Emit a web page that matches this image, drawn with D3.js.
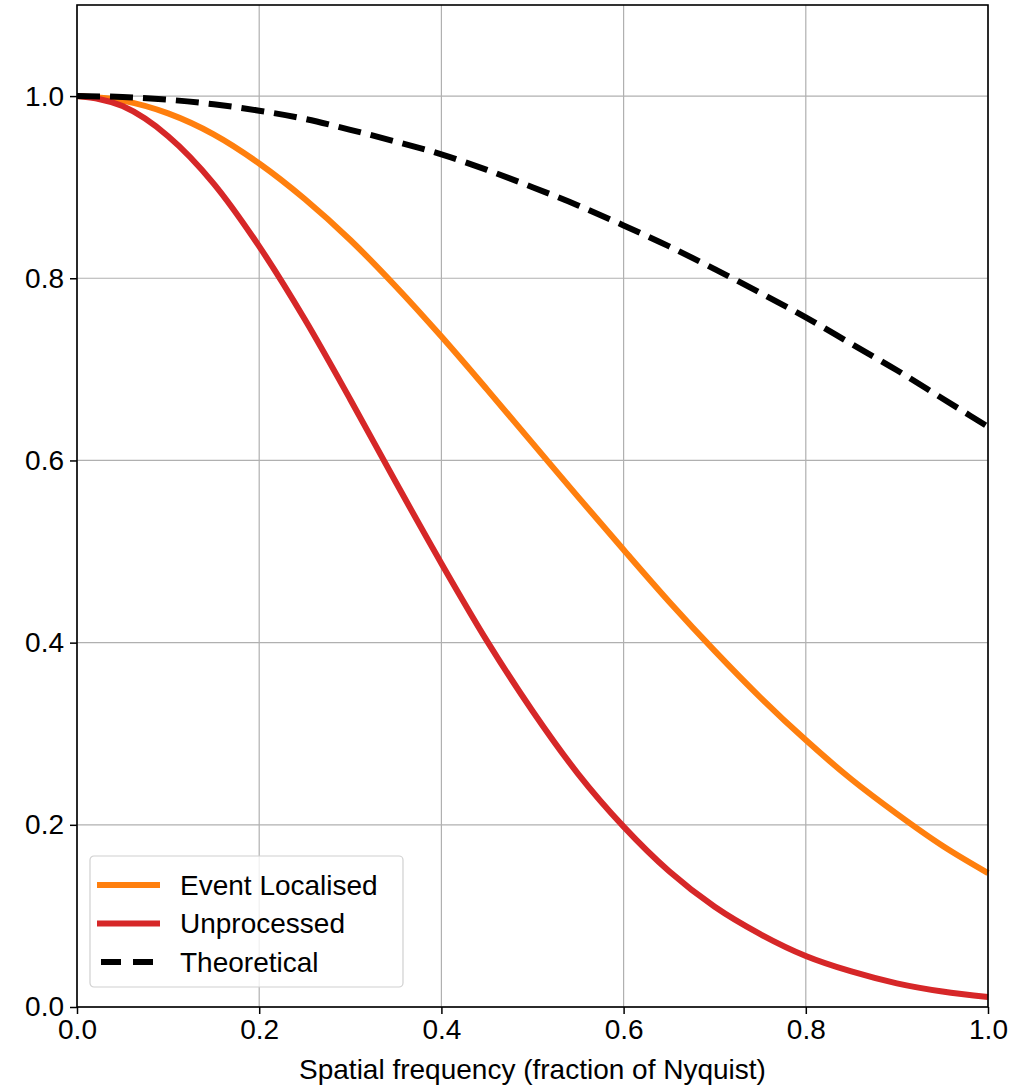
<!DOCTYPE html>
<html>
<head>
<meta charset="utf-8">
<script src="https://cdn.jsdelivr.net/npm/d3@7"></script>
<style>
  body { margin: 0; background: #fff; }
  svg text { font-family: "Liberation Sans", Arial, sans-serif; fill: #000; }
</style>
</head>
<body>
<div id="chart"></div>
<script>
// Spatial frequency samples (fraction of Nyquist)
const freqs = [0, 0.05, 0.1, 0.15, 0.2, 0.25, 0.3, 0.35, 0.4, 0.45, 0.5,
  0.55, 0.6, 0.65, 0.7, 0.75, 0.8, 0.85, 0.9, 0.95, 1.0];

const eventLocalised = [1.0, 0.995, 0.981, 0.958, 0.926, 0.887, 0.842, 0.791, 0.736, 0.678, 0.619,
  0.560, 0.502, 0.445, 0.391, 0.340, 0.293, 0.250, 0.212, 0.177, 0.147];

const unprocessed = [1.0, 0.989, 0.956, 0.904, 0.835, 0.755, 0.667, 0.576, 0.487, 0.402, 0.325,
  0.256, 0.198, 0.149, 0.110, 0.080, 0.056, 0.039, 0.026, 0.017, 0.011];

const theoretical = [1.0, 0.999, 0.996, 0.991, 0.984, 0.975, 0.963, 0.950, 0.936, 0.919, 0.900,
  0.880, 0.858, 0.835, 0.810, 0.784, 0.757, 0.728, 0.699, 0.668, 0.637];

const xTicks = [0, 0.2, 0.4, 0.6, 0.8, 1.0];
const yTicks = [0, 0.2, 0.4, 0.6, 0.8, 1.0];

const series = [
  { name: "Event Localised", values: eventLocalised, color: "#ff7f0e", dash: null },
  { name: "Unprocessed", values: unprocessed, color: "#d62728", dash: null },
  { name: "Theoretical", values: theoretical, color: "#000000", dash: "23,10" }
];

const width = 1024, height = 1088;
const margin = { top: 5, right: 36, bottom: 81, left: 77 };
const innerW = width - margin.left - margin.right;
const innerH = height - margin.top - margin.bottom;
const fontSize = 28;

const svg = d3.select("#chart").append("svg")
  .attr("width", width)
  .attr("height", height);

const g = svg.append("g")
  .attr("transform", `translate(${margin.left},${margin.top})`);

const x = d3.scaleLinear().domain([0, 1]).range([0, innerW]);
const y = d3.scaleLinear().domain([0, 1.1]).range([innerH, 0]);

// Grid
g.append("g")
  .selectAll("line.vgrid")
  .data(xTicks)
  .enter().append("line")
  .attr("x1", d => x(d)).attr("x2", d => x(d))
  .attr("y1", 0).attr("y2", innerH)
  .attr("stroke", "#b0b0b0").attr("stroke-width", 1.2);

g.append("g")
  .selectAll("line.hgrid")
  .data(yTicks)
  .enter().append("line")
  .attr("x1", 0).attr("x2", innerW)
  .attr("y1", d => y(d)).attr("y2", d => y(d))
  .attr("stroke", "#b0b0b0").attr("stroke-width", 1.2);

// Lines
const line = d3.line()
  .x((d, i) => x(freqs[i]))
  .y(d => y(d))
  .curve(d3.curveMonotoneX);

const lines = g.append("g");
for (const s of series) {
  lines.append("path")
    .datum(s.values)
    .attr("d", line)
    .attr("fill", "none")
    .attr("stroke", s.color)
    .attr("stroke-width", 6)
    .attr("stroke-dasharray", s.dash);
}

// Axes
const xAxis = g.append("g")
  .attr("transform", `translate(0,${innerH})`)
  .call(d3.axisBottom(x).tickValues(xTicks).tickFormat(d3.format(".1f")).tickSize(7).tickPadding(5));

const yAxis = g.append("g")
  .call(d3.axisLeft(y).tickValues(yTicks).tickFormat(d3.format(".1f")).tickSize(7).tickPadding(6));

for (const ax of [xAxis, yAxis]) {
  ax.select(".domain").remove();
  ax.selectAll("line").attr("stroke", "#000").attr("stroke-width", 1.5);
  ax.selectAll("text").attr("font-size", fontSize).attr("font-family", "Liberation Sans, Arial, sans-serif");
}

// Frame
g.append("rect")
  .attr("width", innerW).attr("height", innerH)
  .attr("fill", "none").attr("stroke", "#000").attr("stroke-width", 1.6);

// Axis label
svg.append("text")
  .attr("x", margin.left + innerW / 2)
  .attr("y", 1079)
  .attr("text-anchor", "middle")
  .attr("font-size", fontSize)
  .text("Spatial frequency (fraction of Nyquist)");

// Legend
const legend = g.append("g").attr("transform", `translate(13,${innerH - 151})`);
legend.append("rect")
  .attr("width", 313).attr("height", 131)
  .attr("rx", 4)
  .attr("fill", "#fff").attr("fill-opacity", 0.8)
  .attr("stroke", "#d0d0d0").attr("stroke-width", 1.2);

series.forEach((s, i) => {
  const row = legend.append("g").attr("transform", `translate(0,${29 + i * 38.5})`);
  row.append("line")
    .attr("x1", 7).attr("x2", 70)
    .attr("stroke", s.color).attr("stroke-width", 6)
    .attr("stroke-dasharray", s.dash ? "20,12" : null)
    .attr("stroke-dashoffset", s.dash ? -4 : null);
  row.append("text")
    .attr("x", 90).attr("dy", "0.35em")
    .attr("font-size", fontSize)
    .text(s.name);
});
</script>
</body>
</html>
